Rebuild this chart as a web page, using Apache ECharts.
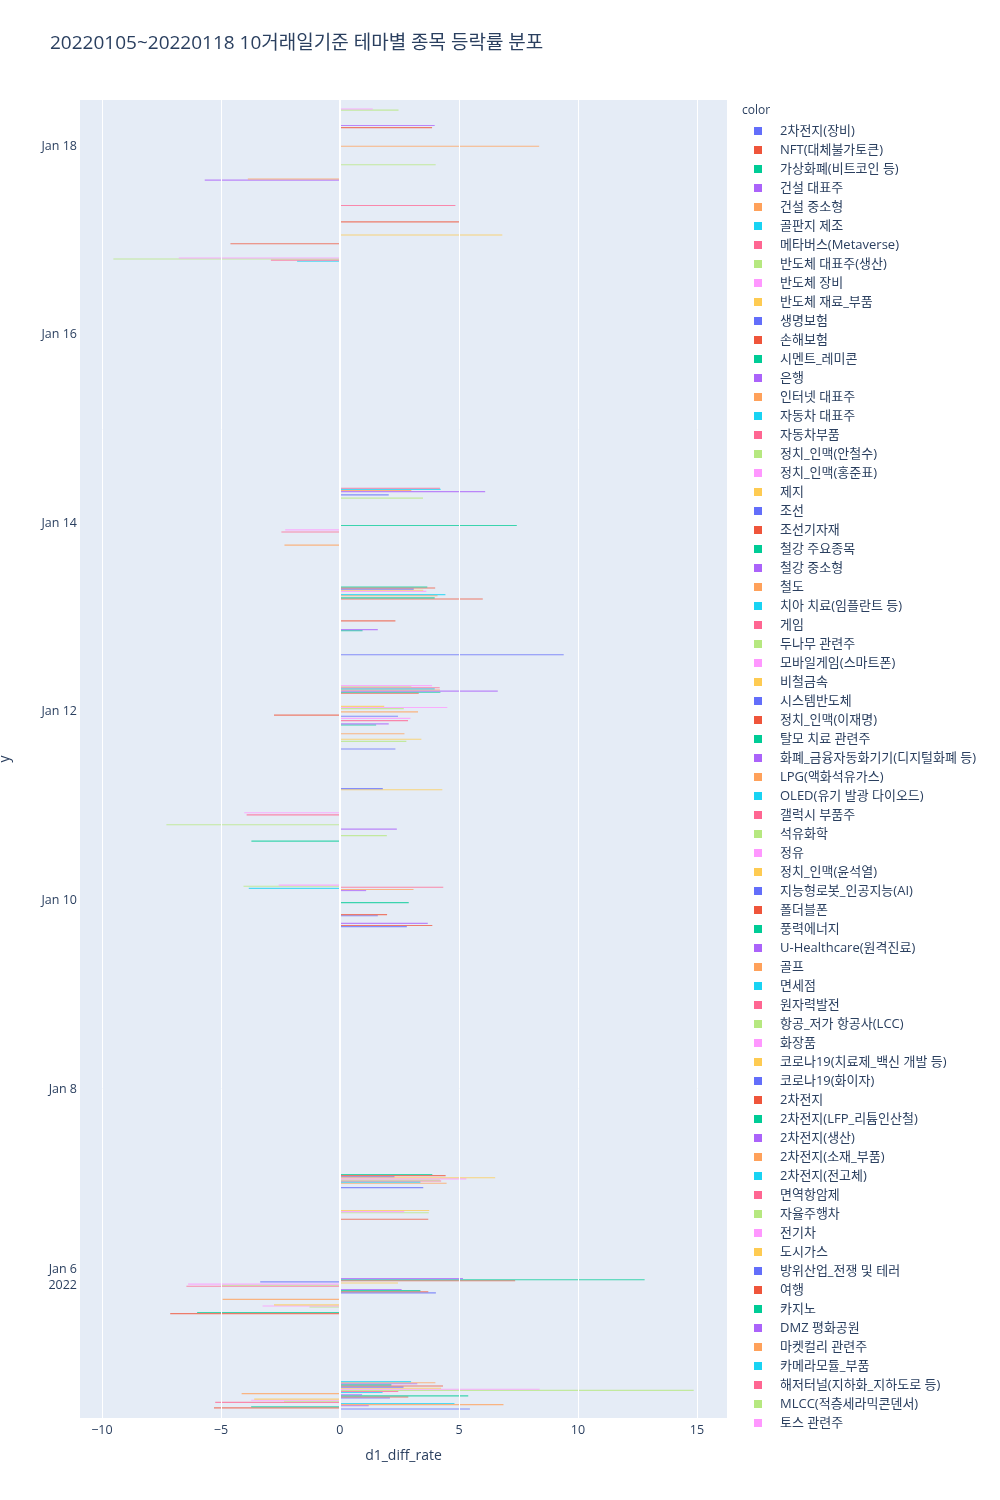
<!DOCTYPE html>
<html>
<head>
<meta charset="utf-8">
<script src="https://cdn.jsdelivr.net/npm/echarts@6/dist/echarts.min.js"></script>
<style>
html,body{margin:0;padding:0;background:#ffffff;}
#chart{width:1000px;height:1500px;}
</style>
</head>
<body>
<div id="chart"></div>
<script>
// ---------------- data ----------------
const themes = ['2차전지(장비)','NFT(대체불가토큰)','가상화폐(비트코인 등)','건설 대표주','건설 중소형','골판지 제조','메타버스(Metaverse)','반도체 대표주(생산)','반도체 장비','반도체 재료_부품','생명보험','손해보험','시멘트_레미콘','은행','인터넷 대표주','자동차 대표주','자동차부품','정치_인맥(안철수)','정치_인맥(홍준표)','제지','조선','조선기자재','철강 주요종목','철강 중소형','철도','치아 치료(임플란트 등)','게임','두나무 관련주','모바일게임(스마트폰)','비철금속','시스템반도체','정치_인맥(이재명)','탈모 치료 관련주','화폐_금융자동화기기(디지털화폐 등)','LPG(액화석유가스)','OLED(유기 발광 다이오드)','갤럭시 부품주','석유화학','정유','정치_인맥(윤석열)','지능형로봇_인공지능(AI)','폴더블폰','풍력에너지','U-Healthcare(원격진료)','골프','면세점','원자력발전','항공_저가 항공사(LCC)','화장품','코로나19(치료제_백신 개발 등)','코로나19(화이자)','2차전지','2차전지(LFP_리튬인산철)','2차전지(생산)','2차전지(소재_부품)','2차전지(전고체)','면역항암제','자율주행차','전기차','도시가스','방위산업_전쟁 및 테러','여행','카지노','DMZ 평화공원','마켓컬리 관련주','카메라모듈_부품','해저터널(지하화_지하도로 등)','MLCC(적층세라믹콘덴서)','토스 관련주'];

const tradingDays = ['2022-01-05','2022-01-06','2022-01-07','2022-01-10','2022-01-11','2022-01-12','2022-01-13','2022-01-14','2022-01-17','2022-01-18'];

// [theme index, d1_diff_rate]
const rates0105 = [[25,2.99],[24,4.01],[23,3.25],[22,2.16],[21,4.33],[20,2.67],[19,4.25],[18,8.39],[17,14.86],[16,2.45],[15,1.79],[14,-4.13],[13,0.93],[12,5.39],[11,2.87],[10,2.1],[9,-3.6],[8,-3.73],[7,-2.35],[6,-5.24],[5,4.81],[4,6.87],[3,1.21],[2,-3.73],[1,-5.29],[0,5.46]];
const rates0106 = [[33,5.17],[32,12.8],[31,7.36],[30,-3.35],[29,2.44],[28,-6.38],[27,-5.0],[26,-6.45],[23,2.59],[22,3.38],[21,3.71],[20,4.03],[14,-4.93],[9,-2.77],[8,-3.25],[7,-1.28],[2,-6.0],[1,-7.13]];
const rates0107 = [[42,3.88],[41,4.44],[40,2.29],[39,6.52],[38,5.31],[37,4.2],[36,4.25],[35,3.38],[34,4.48],[30,3.5],[9,3.75],[8,2.7],[7,3.73],[1,3.71]];
const rates0110 = [[48,-2.57],[47,-4.05],[46,4.34],[45,-3.83],[44,3.09],[43,1.1],[32,2.89],[21,1.98],[20,1.59],[13,3.69],[11,3.88],[10,2.81]];
const rates0111 = [[50,1.8],[49,4.3],[28,-4.02],[26,-3.92],[17,-7.29],[13,2.39],[7,1.97],[2,-3.72]];
const rates0112 = [[58,3.87],[57,3.0],[56,4.19],[55,3.98],[54,4.2],[53,6.63],[52,4.22],[51,3.31],[39,1.86],[38,4.51],[37,2.68],[34,3.28],[31,-2.77],[30,2.44],[28,2.96],[26,2.86],[23,2.05],[22,1.52],[14,2.71],[9,3.42],[7,2.79],[0,2.33]];
const rates0113 = [[62,3.67],[61,4.0],[60,3.1],[59,3.5],[58,3.63],[55,4.43],[54,4.1],[52,3.98],[51,6.0],[31,2.33],[23,1.59],[22,0.95],[0,9.4]];
const rates0114 = [[66,4.2],[65,4.23],[64,3.0],[63,6.1],[60,2.05],[57,3.49],[32,7.43],[28,-2.3],[26,-2.46],[14,-2.33]];
const rates0117 = [[66,4.85],[51,5.0],[39,6.82],[31,-4.6],[18,-6.77],[17,-9.52],[16,-2.9],[15,-1.8]];
const rates0118 = [[68,1.38],[67,2.46],[53,3.98],[51,3.87],[34,8.37],[17,4.02],[4,-3.87],[3,-5.68]];

const ratesByDay = [rates0105,rates0106,rates0107,rates0110,rates0111,rates0112,rates0113,rates0114,rates0117,rates0118];

const xTicks = [-10,-5,0,5,10,15];
const monthNames = ['Jan','Feb','Mar','Apr','May','Jun','Jul','Aug','Sep','Oct','Nov','Dec'];

// ---------------- styling / layout ----------------
const palette = ['#636EFA','#EF553B','#00CC96','#AB63FA','#FFA15A','#19D3F3','#FF6692','#B6E880','#FF97FF','#FECB52'];
const FONT = '"Open Sans", "Noto Sans CJK KR", "DejaVu Sans", sans-serif';
const TXT = '#2a3f5f';
const DAY = 86400000;
const refMs = Date.UTC(2022,0,6);
function dayOffset(s){ const p = s.split('-').map(Number); return (Date.UTC(p[0],p[1]-1,p[2]) - refMs)/DAY; }

const nSlots = themes.length;
const groupWidth = 0.8;              // days
const slot = groupWidth / nSlots;    // days per trace slot
const centerSlot = (nSlots - 1) / 2;
const dayOffsets = tradingDays.map(dayOffset);
const yPad = 0.49;
const yMin = dayOffsets[0] - yPad, yMax = dayOffsets[dayOffsets.length-1] + yPad;

// group bars per theme
const perTheme = themes.map(() => []);
ratesByDay.forEach((arr, di) => {
  arr.forEach(([k, v]) => { perTheme[k].push([v, dayOffsets[di], k]); });
});

function renderBar(params, api){
  const v = api.value(0), d = api.value(1), k = api.value(2);
  const yc = d + (k - centerSlot) * slot;
  const a = api.coord([0, yc]);
  const b = api.coord([v, yc]);
  const h = Math.abs(api.size([0, slot])[1]);
  return {
    type: 'rect',
    shape: { x: Math.min(a[0], b[0]), y: a[1] - h/2, width: Math.abs(b[0] - a[0]), height: h },
    style: { fill: api.visual('color'), opacity: 0.75 }
  };
}

const series = [{
  type: 'line', name: '_grid', data: [[0, 0]], symbol: 'none', silent: true,
  lineStyle: { opacity: 0 }, z: 1,
  markLine: {
    silent: true, symbol: ['none','none'], label: { show: false }, animation: false,
    data: xTicks.map(t => ({ xAxis: t, lineStyle: { color: '#ffffff', width: t === 0 ? 2 : 1, type: 'solid', opacity: 1 } }))
  }
}];
themes.forEach((name, k) => {
  series.push({
    type: 'custom', name: name, coordinateSystem: 'cartesian2d',
    itemStyle: { color: palette[k % 10] },
    encode: { x: 0, y: 1 },
    renderItem: renderBar,
    data: perTheme[k],
    z: 2
  });
});

const chart = echarts.init(document.getElementById('chart'), null, { renderer: 'canvas' });
chart.setOption({
  animation: false,
  backgroundColor: '#ffffff',
  textStyle: { fontFamily: FONT },
  title: [
    { text: '20220105~20220118 10거래일기준 테마별 종목 등락률 분포', left: 50, top: 34, padding: 0,
      textStyle: { fontFamily: FONT, fontSize: 19, fontWeight: 'normal', color: TXT } },
    { text: 'color', left: 742, top: 105, padding: 0,
      textStyle: { fontFamily: FONT, fontSize: 12, fontWeight: 'normal', color: TXT } }
  ],
  legend: {
    data: themes, orient: 'vertical', left: 754, top: 124, padding: 0,
    icon: 'rect', itemWidth: 8, itemHeight: 8, itemGap: 5,
    textStyle: { fontFamily: FONT, fontSize: 13, color: TXT, lineHeight: 14, padding: [0,0,0,13] }
  },
  grid: { left: 80, right: 273, top: 100, bottom: 82, show: true, backgroundColor: '#E5ECF6', borderWidth: 0, containLabel: false, outerBoundsMode: 'none' },
  xAxis: {
    type: 'value', min: -10.92, max: 16.26, splitNumber: 5,
    axisLine: { show: false }, axisTick: { show: false }, splitLine: { show: false },
    axisLabel: {
      showMinLabel: false, showMaxLabel: false, margin: 6,
      fontFamily: FONT, fontSize: 12.5, color: TXT,
      formatter: function(v){ const r = Math.round(v); if (Math.abs(v - r) > 1e-6 || r % 5 !== 0) return ''; return r < 0 ? '\u2212' + (-r) : String(r); }
    },
    name: 'd1_diff_rate', nameLocation: 'middle', nameGap: 31,
    nameTextStyle: { fontFamily: FONT, fontSize: 14, color: TXT }
  },
  yAxis: {
    type: 'value', min: yMin, max: yMax, splitNumber: 7,
    axisLine: { show: false }, axisTick: { show: false }, splitLine: { show: false },
    axisLabel: {
      showMinLabel: false, showMaxLabel: false, margin: 3,
      fontFamily: FONT, fontSize: 12.5, color: TXT, lineHeight: 16,
      formatter: function(v){
        const r = Math.round(v);
        if (Math.abs(v - r) > 1e-6 || r % 2 !== 0) return '';
        const dt = new Date(refMs + r * DAY);
        let s = monthNames[dt.getUTCMonth()] + ' ' + dt.getUTCDate();
        if (r === 0) s += '\n' + dt.getUTCFullYear();
        return s;
      }
    },
    name: 'y', nameLocation: 'middle', nameGap: 68,
    nameTextStyle: { fontFamily: FONT, fontSize: 14, color: TXT }
  },
  series: series
});
</script>
</body>
</html>
